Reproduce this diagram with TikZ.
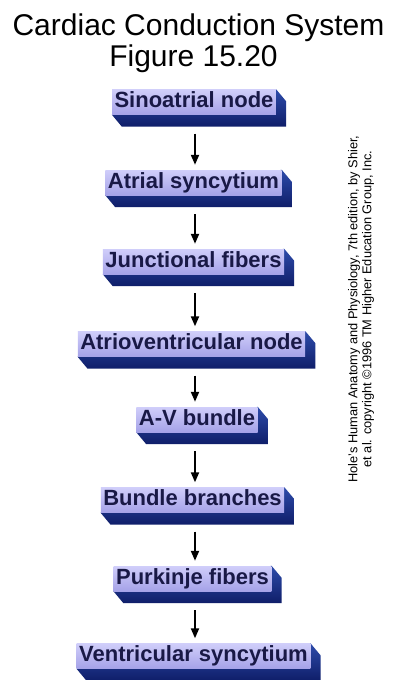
\documentclass[tikz,border=0pt]{standalone}
\usepackage{fontspec}
\setmainfont{Liberation Sans}
\usetikzlibrary{arrows.meta,backgrounds}
\definecolor{facetop}{RGB}{208,206,250}
\definecolor{facebot}{RGB}{165,162,232}
\definecolor{shtop}{RGB}{45,75,170}
\definecolor{shbot}{RGB}{15,30,105}
\definecolor{txt}{RGB}{25,25,70}
\tikzset{
  stage/.style={top color=facetop,bottom color=facebot,text=txt,
    font=\fontsize{22}{24}\selectfont\bfseries,inner xsep=2.5pt,inner ysep=2pt,
    text height=16pt,text depth=5pt},
  arr/.style={line width=2pt,-{Triangle[length=10pt,width=8pt]},shorten <=19pt,shorten >=5pt},
  title/.style={font=\fontsize{30}{36}\selectfont,anchor=base},
}
\newcommand\extrude[1]{%
  \begin{scope}[on background layer]
    \shade[top color=shtop,bottom color=shbot] (#1.north east) -- ([shift={(10,12)}]#1.north east)
      -- ([shift={(10,12)}]#1.south east) -- ([shift={(10,12)}]#1.south west)
      -- (#1.south west) -- cycle;
  \end{scope}}
\begin{document}
\begin{tikzpicture}[x=1pt,y=-1pt]
\useasboundingbox (0,0) rectangle (396,680);
\begin{scope}[on background layer]
  \fill[white] (0,0) rectangle (396,680);
\end{scope}
\node[title] (t1) at (198.5,35) {Cardiac Conduction System};
\node[title] (t2) at (193.5,66) {Figure 15.20};

\node[stage] (n1) at (194,102) {Sinoatrial node};
\node[stage] (n2) at (193.5,182.5) {Atrial syncytium};
\node[stage] (n3) at (193.5,261.5) {Junctional fibers};
\node[stage] (n4) at (191.5,344) {Atrioventricular node};
\node[stage] (n5) at (197,419.5) {A-V bundle};
\node[stage] (n6) at (192.5,500) {Bundle branches};
\node[stage] (n7) at (192.5,578.5) {Purkinje fibers};
\node[stage] (n8) at (193.5,656) {Ventricular syncytium};
\foreach \n in {n1,n2,n3,n4,n5,n6,n7,n8} {\extrude{\n}}

\coordinate (ax) at (195,0);
\foreach \a/\b in {n1/n2,n2/n3,n3/n4,n4/n5,n5/n6,n6/n7,n7/n8}
  \draw[arr] (\a.south -| ax) -- (\b.north -| ax);

\node[rotate=90,align=center,font=\fontsize{12.8}{14}\selectfont] (src) at (361,309)
  {Hole's Human Anatomy and Physiology, 7th edition, by Shier,\\
   et al. copyright ©1996 TM Higher Education Group, Inc.};
\end{tikzpicture}
\end{document}
